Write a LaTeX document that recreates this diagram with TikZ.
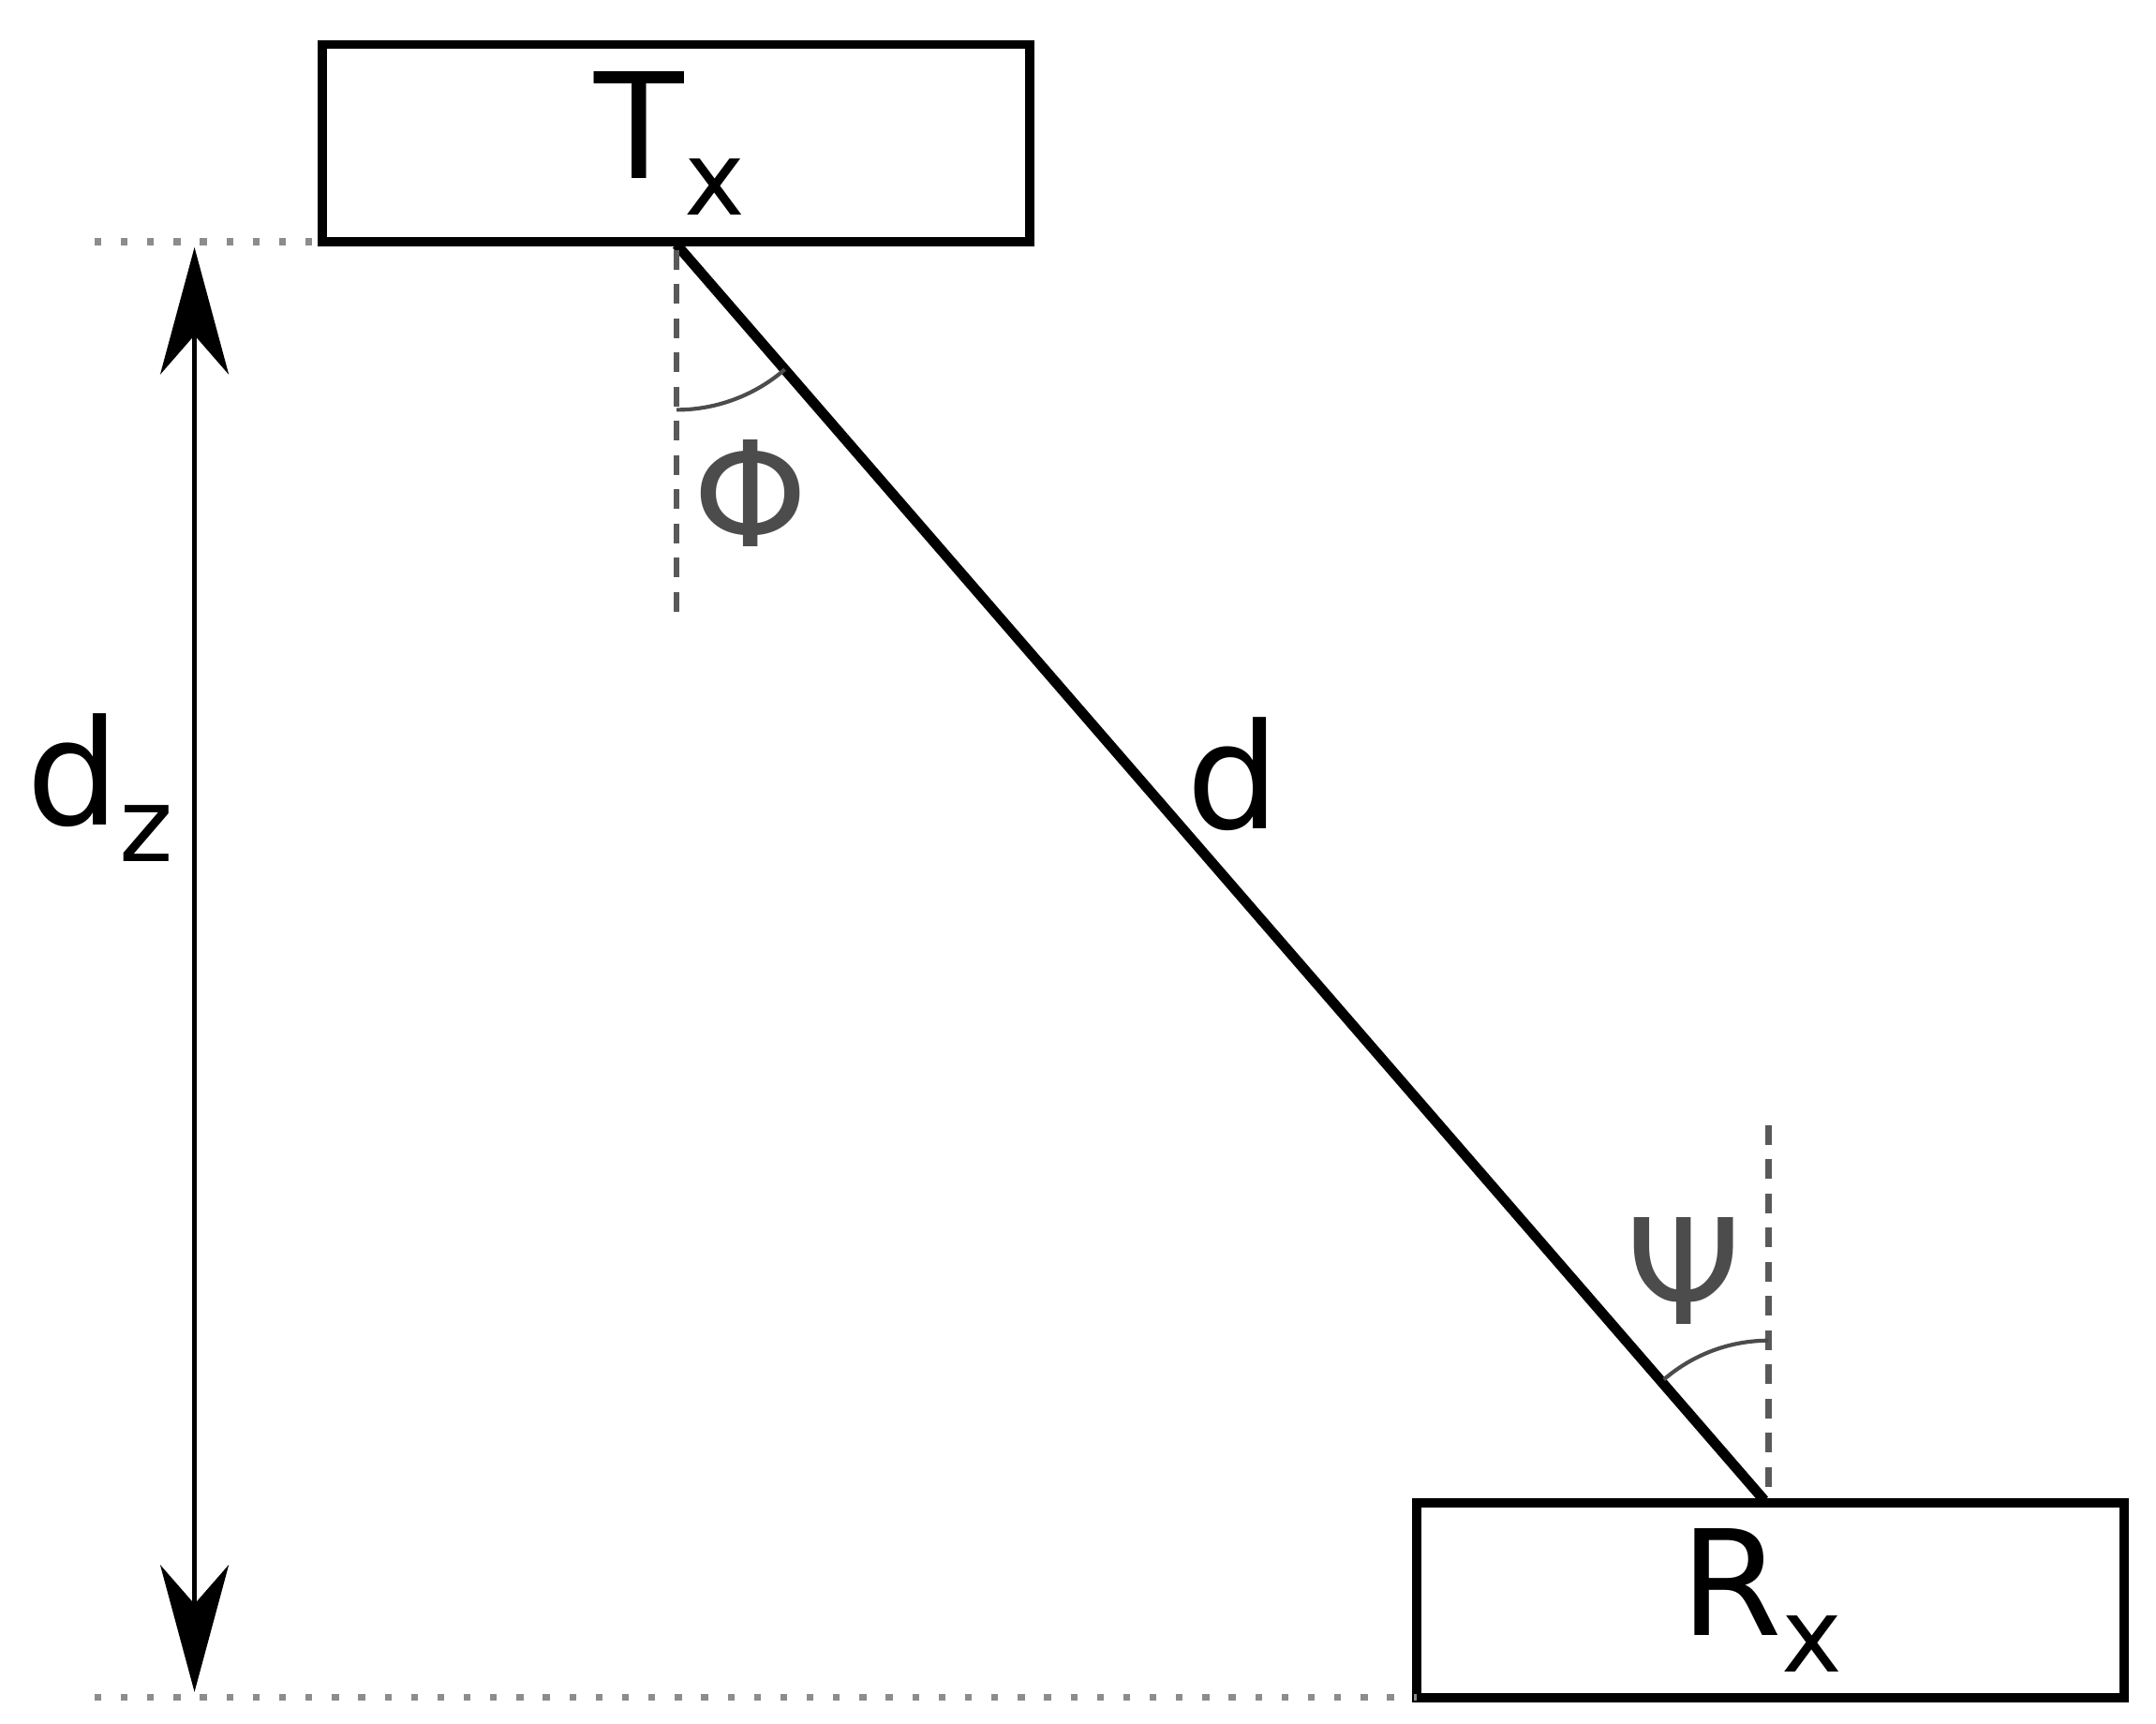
\documentclass[tikz,border=0pt]{standalone}
\usepackage{fontspec}
\setmainfont{DejaVu Sans}
\usetikzlibrary{arrows.meta}
\newcommand{\sbx}[1]{\raisebox{-0.25em}{\fontsize{21}{21}\selectfont #1}}
\begin{document}
\begin{tikzpicture}[x=0.01cm,y=-0.01cm,
  box/.style={draw,line width=1.9pt},
  lbl/.style={font=\fontsize{30}{30}\selectfont,inner sep=0pt},
  glbl/.style={lbl,text=black!70},
  guide/.style={draw=black!65,line width=1.2pt,dash pattern=on 4pt off 3pt},
  dots/.style={draw=black!45,line width=1.4pt,dash pattern=on 1.4pt off 4pt}]
\useasboundingbox (0,0) rectangle (1552,1241);
\draw[box] (232,32) rectangle (741,174);
\node[lbl] (txl) at (482,103) {T\sbx{x}};
\draw[box] (1020,1082) rectangle (1529,1222);
\node[lbl] (rxl) at (1268,1152) {R\sbx{x}};
\coordinate (A) at (487,176);
\coordinate (B) at (1270,1080);
\draw[line width=2.1pt] (A) -- (B);
\draw[guide] (487,180) -- (487,445);
\draw[guide] (1273,810) -- (1273,1080);
\draw[black!70,line width=0.8pt] (487,295) arc[start angle=90,end angle=49.1,radius=119];
\draw[black!70,line width=0.8pt] (1273,965) arc[start angle=-90,end angle=-130.9,radius=115];
\node[glbl] (phi) at (540,355) {Φ};
\node[glbl] (psi) at (1212,915) {Ψ};
\node[lbl] (d) at (888,557) {d};
\draw[dots] (68,174) -- (232,174);
\draw[dots] (68,1222) -- (1020,1222);
\coordinate (T) at (140,178);
\coordinate (U) at (140,1218);
\draw[line width=1.1pt,{Stealth[length=26pt,width=14pt,inset=8pt]}-{Stealth[length=26pt,width=14pt,inset=8pt]}] (T) -- (U);
\node[lbl] (dz) at (72,567) {d\sbx{z}};
\end{tikzpicture}
\end{document}
